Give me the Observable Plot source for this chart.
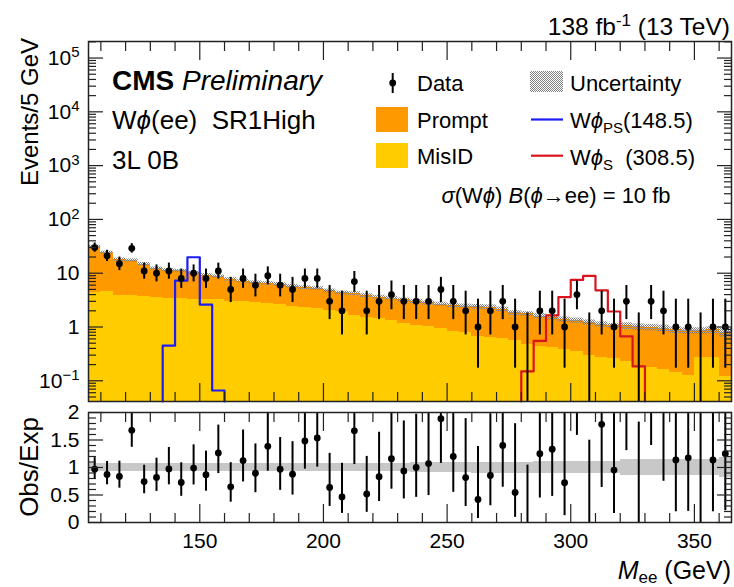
<!DOCTYPE html>
<html><head><meta charset="utf-8">
<script src="https://cdn.jsdelivr.net/npm/d3@7"></script>
<script src="https://cdn.jsdelivr.net/npm/@observablehq/plot@0.6"></script>
<style>
body{margin:0;background:#fff;}
#wrap{position:relative;width:734px;height:587px;overflow:hidden;font-family:"Liberation Sans",Arial,Helvetica,sans-serif;}
#wrap svg{position:absolute;left:0;}
</style></head><body>
<svg width="0" height="0" style="position:absolute">
<defs><pattern id="hatch" width="2" height="2" patternUnits="userSpaceOnUse"><rect x="0" y="0" width="1" height="1" fill="#808080"/><rect x="1" y="1" width="1" height="1" fill="#808080"/></pattern></defs></svg>
<div id="wrap"></div>
<script>
// ---- data ----
const binLow = [105,110,115,120,125,130,135,140,145,150,155,160,165,170,175,180,185,190,195,200,205,210,215,220,225,230,235,240,245,250,255,260,265,270,275,280,285,290,295,300,305,310,315,320,325,330,335,340,345,350,355,360];
const dataCounts = [30,21,15,29,11,10,11,8,10,8, 11,5,8,6,9,6,5,8,8,3, 2,7,2,3,4,3,3,3,5,3, 2,1,2,3,1,0,2,2,1,4, 0,2,1,3,0,3,2,1,1,0, 1,1];
const misid = [4.3,4.5,3.8,3.8,3.7,3.6,3.45,3.4,3.3,3.25, 3.2,3.0,2.95,2.85,2.7,2.6,2.4,2.3,2.2,2.05, 1.95,1.65,1.5,1.45,1.32,1.15,1.05,1.0,0.93,0.82, 0.78,0.68,0.64,0.62,0.56,0.47,0.44,0.41,0.38,0.35, 0.29,0.27,0.26,0.23,0.18,0.18,0.16,0.14,0.125,0.27, 0.27,0.12];
const prompt = [26.7,19.5,14.1,13.5,11.1,8.6,7.85,7.6,6.8,5.95, 5.5,4.7,4.15,3.85,3.8,3.6,3.3,3.1,3.0,2.65, 2.35,2.55,2.35,2.15,2.13,2.05,1.95,1.8,1.72,1.68, 1.67,1.7,1.7,1.52,1.27,1.28,1.16,1.09,1.0,0.97, 0.93,0.85,0.79,0.82,0.82,0.8,0.79,0.74,0.725,0.58, 0.61,0.68];
const uncRel = [0.07,0.07,0.07,0.07,0.07,0.07,0.07,0.07,0.07,0.07, 0.07,0.07,0.07,0.07,0.07,0.08,0.08,0.08,0.08,0.08, 0.08,0.08,0.08,0.08,0.08,0.08,0.09,0.09,0.09,0.09, 0.09,0.10,0.10,0.10,0.10,0.10,0.11,0.11,0.11,0.11, 0.11,0.11,0.11,0.14,0.14,0.14,0.14,0.14,0.14,0.14, 0.15,0.19];
const psBins = [135,140,145,150,155];
const psVals = [0.45,7.3,19.8,2.6,0.066];
const sBins = [280,285,290,295,300,305,310,315,320,325];
const sVals = [0.15,0.55,1.64,3.6,7.5,8.9,4.8,1.94,0.67,0.185];
const yMajorTop = [0.1,1,10,100,1000,10000,100000];
const yTopLabels = ["10^−1","1","10","10^2","10^3","10^4","10^5"];
const xMajor = [150,200,250,300,350];
const ratioMajor = [0,0.5,1,1.5,2];
const ratioLabels = ["0","0.5","1","1.5","2"];

// ---- helpers ----
const BW = 5, YMIN = 0.0412, YMAX = 2.03e5;
function garwood(n){
  const lo = n === 0 ? 0 : n*Math.pow(1 - 1/(9*n) - 1/(3*Math.sqrt(n)), 3);
  const m = n + 1;
  const hi = m*Math.pow(1 - 1/(9*m) + 1/(3*Math.sqrt(m)), 3);
  return [lo, hi];
}
const rows = binLow.map((lo,i)=>{
  const t = misid[i] + prompt[i];
  const [elo, ehi] = garwood(dataCounts[i]);
  return {lo, hi: lo+BW, mid: lo+BW/2, misid: misid[i], total: t, n: dataCounts[i], elo, ehi, unc: uncRel[i]};
});
function stepOutline(bins, vals){
  const pts = [{x: bins[0], y: YMIN}];
  bins.forEach((b,i)=>{ pts.push({x: b, y: Math.max(YMIN, vals[i])}); pts.push({x: b+BW, y: Math.max(YMIN, vals[i])}); });
  pts.push({x: bins[bins.length-1]+BW, y: YMIN});
  return pts;
}
const yMinorTop = [];
for (let e=-2; e<=5; e++) for (let m=2; m<=9; m++){ const v = m*Math.pow(10,e); if (v > YMIN && v < YMAX) yMinorTop.push(v); }
const xMinor = d3.range(110, 365, 10).filter(v => v % 50 !== 0);
const ratioMinor = d3.range(1, 20).filter(i => i % 5 !== 0).map(i => i/10);

const FONT = '"Liberation Sans", Arial, Helvetica, sans-serif';
const INK = "#222";
const common = {
  width: 734, marginLeft: 88, marginRight: 3,
  x: {domain: [105, 365]},
  style: {fontFamily: FONT, fontSize: "21px", color: INK, background: "transparent", overflow: "visible"}
};
function frameTicks(yMaj, yMin){
  return [
    Plot.axisY(yMaj, {anchor: "left", tickSize: 15, dx: 15, fill: "none", label: null, strokeWidth: 1.2}),
    Plot.axisY(yMin, {anchor: "left", tickSize: 8, dx: 8, fill: "none", label: null, strokeWidth: 1.2}),
    Plot.axisY(yMaj, {anchor: "right", tickSize: 15, dx: -15, fill: "none", label: null, strokeWidth: 1.2}),
    Plot.axisY(yMin, {anchor: "right", tickSize: 8, dx: -8, fill: "none", label: null, strokeWidth: 1.2}),
    Plot.axisX(xMajor, {anchor: "top", tickSize: 18, dy: 18, fill: "none", label: null, strokeWidth: 1.2}),
    Plot.axisX(xMinor, {anchor: "top", tickSize: 9, dy: 9, fill: "none", label: null, strokeWidth: 1.2}),
    Plot.axisX(xMajor, {anchor: "bottom", tickSize: 18, dy: -18, fill: "none", label: null, strokeWidth: 1.2}),
    Plot.axisX(xMinor, {anchor: "bottom", tickSize: 9, dy: -9, fill: "none", label: null, strokeWidth: 1.2})
  ];
}

// ---- top panel ----
const topPlot = Plot.plot({
  ...common, height: 405, marginTop: 41, marginBottom: 4,
  y: {type: "log", domain: [YMIN, YMAX]},
  marks: [
    Plot.rect(rows, {x1: "lo", x2: "hi", y1: YMIN, y2: "misid", fill: "#ffcc00", shapeRendering: "crispEdges"}),
    Plot.rect(rows, {x1: "lo", x2: "hi", y1: "misid", y2: "total", fill: "#ff9900", shapeRendering: "crispEdges"}),
    Plot.rect(rows, {x1: "lo", x2: "hi", y1: d => d.total*(1-d.unc), y2: d => d.total*(1+d.unc), fill: "url(#hatch)"}),
    Plot.line(stepOutline(psBins, psVals), {x: "x", y: "y", stroke: "#1c1cf5", strokeWidth: 2.2}),
    Plot.line(stepOutline(sBins, sVals), {x: "x", y: "y", stroke: "#d9141c", strokeWidth: 2.2}),
    Plot.ruleX(rows, {x: "mid", y1: d => Math.max(YMIN, d.elo), y2: "ehi", stroke: "#000", strokeWidth: 2}),
    Plot.dot(rows.filter(d => d.n > 0), {x: "mid", y: "n", r: 3.4, fill: "#000"}),
    ...frameTicks(yMajorTop, yMinorTop),
    Plot.axisY(yMajorTop, {anchor: "left", tickSize: 0, tickPadding: 9, label: null, fill: "#000",
      tickFormat: v => yTopLabels[yMajorTop.indexOf(v)]}),
    Plot.frame({stroke: INK, strokeWidth: 1.5})
  ]
});
topPlot.querySelectorAll('[aria-label="y-axis tick label"] text').forEach(t => {
  const m = t.textContent.match(/^10\^(.+)$/);
  if (m) {
    t.textContent = "10";
    const ts = document.createElementNS("http://www.w3.org/2000/svg", "tspan");
    ts.setAttribute("dy", "-0.5em");
    ts.setAttribute("font-size", "15");
    ts.textContent = m[1];
    t.appendChild(ts);
  }
});

// ---- ratio panel ----
const bottomPlot = Plot.plot({
  ...common, height: 182, marginTop: 7, marginBottom: 65,
  y: {domain: [0, 2]},
  marks: [
    Plot.rect(rows, {x1: "lo", x2: "hi", y1: d => 1-d.unc, y2: d => 1+d.unc, fill: "#c8c8c8", shapeRendering: "crispEdges"}),
    Plot.ruleX(rows.filter(d => d.elo/d.total < 2), {x: "mid", y1: d => d.elo/d.total, y2: d => Math.min(2, d.ehi/d.total), stroke: "#000", strokeWidth: 2}),
    Plot.dot(rows.filter(d => d.n > 0 && d.n/d.total <= 2), {x: "mid", y: d => d.n/d.total, r: 3.4, fill: "#000"}),
    ...frameTicks(ratioMajor, ratioMinor),
    Plot.axisY(ratioMajor, {anchor: "left", tickSize: 0, tickPadding: 9, label: null, fill: "#000",
      tickFormat: v => ratioLabels[ratioMajor.indexOf(v)]}),
    Plot.axisX(xMajor, {anchor: "bottom", tickSize: 0, tickPadding: 11, label: null, fill: "#000", tickFormat: d => String(d)}),
    Plot.frame({stroke: INK, strokeWidth: 1.5})
  ]
});

const wrap = document.getElementById("wrap");
topPlot.style.top = "0px";
bottomPlot.style.top = "405px";
wrap.appendChild(topPlot);
wrap.appendChild(bottomPlot);

// ---- overlay: titles and legend ----
const ov = `
<svg width="734" height="587" style="top:0;pointer-events:none" font-family='${FONT}'>
  <text x="730" y="35" text-anchor="end" font-size="24.5">138 fb<tspan dy="-9" font-size="17">-1</tspan><tspan dy="9"> (13 TeV)</tspan></text>
  <text transform="translate(38,112) rotate(-90)" text-anchor="middle" font-size="24">Events/5 GeV</text>
  <text transform="translate(38,467) rotate(-90)" text-anchor="middle" font-size="26">Obs/Exp</text>
  <text x="731" y="579" text-anchor="end" font-size="25"><tspan font-style="italic">M</tspan><tspan dy="4" font-size="17">ee</tspan><tspan dy="-4"> (GeV)</tspan></text>

  <text x="112" y="90" font-size="28"><tspan font-weight="bold">CMS</tspan> <tspan font-style="italic">Preliminary</tspan></text>
  <text x="112" y="129" font-size="26" xml:space="preserve">W<tspan font-style="italic">ϕ</tspan>(ee)  SR1High</text>
  <text x="112" y="169" font-size="26">3L 0B</text>

  <line x1="392.7" x2="392.7" y1="73" y2="93" stroke="#000" stroke-width="2"/>
  <circle cx="392.7" cy="83" r="3.4" fill="#000"/>
  <text x="417" y="91" font-size="22">Data</text>
  <rect x="530" y="71" width="33" height="21" fill="url(#hatch)"/>
  <text x="570" y="91" font-size="22">Uncertainty</text>
  <rect x="376" y="107" width="32" height="25" fill="#ff9900"/>
  <text x="417" y="128" font-size="22">Prompt</text>
  <line x1="531" x2="563" y1="119.5" y2="119.5" stroke="#1c1cf5" stroke-width="2.2"/>
  <text x="570" y="128" font-size="22">W<tspan font-style="italic">ϕ</tspan><tspan dy="5" font-size="15">PS</tspan><tspan dy="-5">(148.5)</tspan></text>
  <rect x="376" y="143" width="32" height="25" fill="#ffcc00"/>
  <text x="417" y="164" font-size="22">MisID</text>
  <line x1="531" x2="563" y1="155.7" y2="155.7" stroke="#d9141c" stroke-width="2.2"/>
  <text x="570" y="165" font-size="22" xml:space="preserve">W<tspan font-style="italic">ϕ</tspan><tspan dy="5" font-size="15">S</tspan><tspan dy="-5">  (308.5)</tspan></text>
  <text x="556" y="203" text-anchor="middle" font-size="22"><tspan font-style="italic">σ</tspan>(W<tspan font-style="italic">ϕ</tspan>) <tspan font-style="italic">B</tspan>(<tspan font-style="italic">ϕ</tspan>→ee) = 10 fb</text>
</svg>`;
wrap.insertAdjacentHTML("beforeend", ov);
</script>
</body></html>
